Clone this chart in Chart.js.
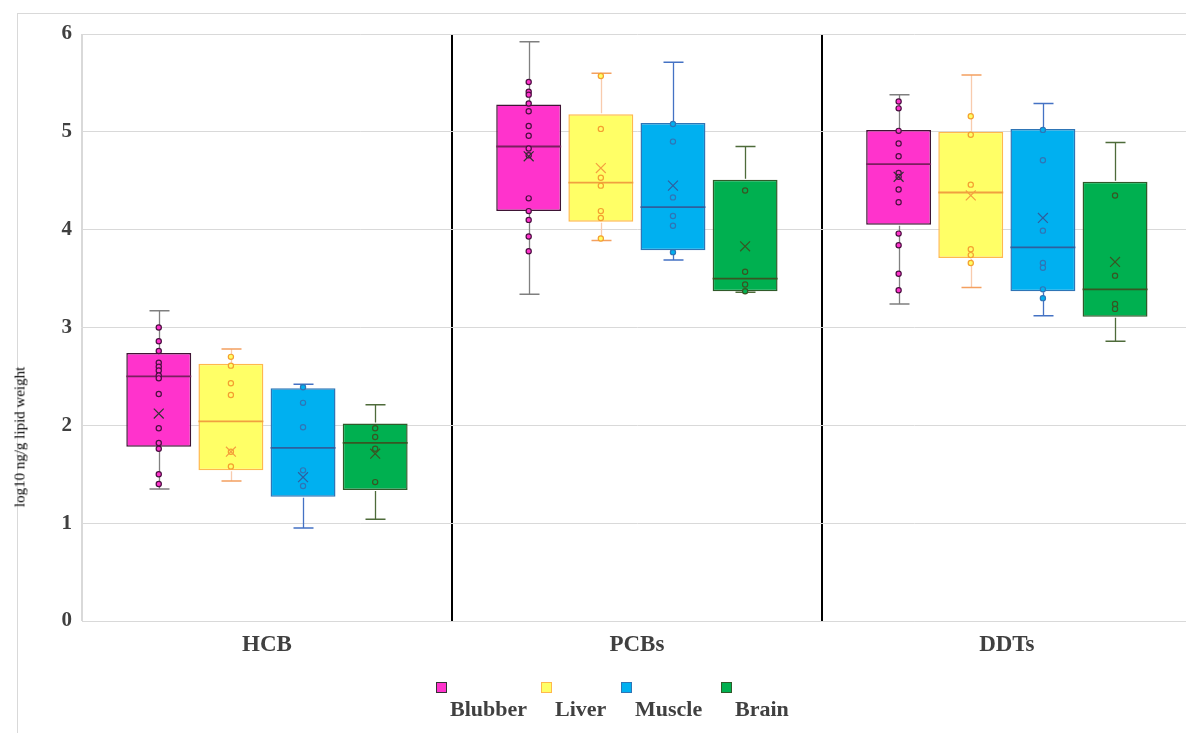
<!DOCTYPE html>
<html>
<head>
<meta charset="utf-8">
<script src="https://cdn.jsdelivr.net/npm/chart.js@4.4.1/dist/chart.umd.min.js"></script>
<style>
    html, body { margin: 0; padding: 0; background: #fff; overflow: hidden; width: 1186px; height: 733px; }
    #wrap { position: absolute; left: 0; top: 0; width: 1200px; height: 733px; }
    #frame { position: absolute; left: 17px; top: 13px; width: 1300px; height: 800px; border-left: 1px solid #d9d9d9; border-top: 1px solid #d9d9d9; }
    #ytitle { position: absolute; left: 20px; top: 437px; transform: translate(-50%, -50%) rotate(-90deg); font: 15px "Liberation Serif", "Times New Roman", serif; color: #000; white-space: nowrap; }
    .leg { position: absolute; top: 682px; }
    .leg .sq { width: 9px; height: 9px; border: 1px solid; }
    .leg .lb { position: absolute; left: 14px; top: 14px; font: bold 22px "Liberation Serif", "Times New Roman", serif; color: #404040; white-space: nowrap; }
</style>
</head>
<body>
<div id="frame"></div>
<div id="wrap"><canvas id="boxChart" width="1200" height="733"></canvas></div>
<div id="ytitle">log10 ng/g lipid weight</div>
<div id="legend"></div>
<script>
const groups = ['HCB', 'PCBs', 'DDTs'];
const tissues = ['Blubber', 'Liver', 'Muscle', 'Brain'];
const yTicks = [0, 1, 2, 3, 4, 5, 6];

// summary stats, [tissue][group]
const lowWhisker = [[1.35, 3.34, 3.24], [1.43, 3.89, 3.41], [0.95, 3.69, 3.12], [1.04, 3.36, 2.86]];
const q1 = [[1.78, 4.19, 4.05], [1.54, 4.08, 3.71], [1.27, 3.79, 3.37], [1.34, 3.37, 3.11]];
const medians = [[2.50, 4.85, 4.67], [2.04, 4.48, 4.38], [1.77, 4.23, 3.82], [1.82, 3.50, 3.39]];
const q3 = [[2.74, 5.28, 5.02], [2.63, 5.18, 5.00], [2.38, 5.09, 5.03], [2.02, 4.51, 4.49]];
const highWhisker = [[3.17, 5.92, 5.38], [2.78, 5.60, 5.58], [2.42, 5.71, 5.29], [2.21, 4.85, 4.89]];
const means = [[2.12, 4.75, 4.54], [1.73, 4.63, 4.35], [1.47, 4.45, 4.12], [1.71, 3.83, 3.67]];

// individual samples, [group][sample]
const blubberPoints = [
    [3.00, 2.86, 2.76, 2.64, 2.60, 2.56, 2.51, 2.48, 2.32, 1.97, 1.82, 1.76, 1.50, 1.40],
    [5.51, 5.41, 5.38, 5.29, 5.21, 5.06, 4.96, 4.83, 4.76, 4.32, 4.19, 4.10, 3.93, 3.78],
    [5.31, 5.24, 5.01, 4.88, 4.75, 4.58, 4.54, 4.41, 4.28, 3.96, 3.84, 3.55, 3.38]
];
const liverPoints = [
    [2.70, 2.61, 2.43, 2.31, 1.73, 1.58],
    [5.57, 5.03, 4.53, 4.45, 4.19, 4.12, 3.91],
    [5.16, 4.97, 4.46, 3.80, 3.74, 3.66]
];
const musclePoints = [
    [2.39, 2.23, 1.98, 1.54, 1.38],
    [5.08, 4.90, 4.33, 4.14, 4.04, 3.77],
    [5.02, 4.71, 3.99, 3.66, 3.61, 3.39, 3.30]
];
const brainPoints = [
    [1.97, 1.88, 1.76, 1.42],
    [4.40, 3.57, 3.44, 3.37],
    [4.35, 3.53, 3.24, 3.19]
];
const allPoints = [blubberPoints, liverPoints, musclePoints, brainPoints];

const fillColors = ['#FF33CC', '#FFFF66', '#00B0F0', '#00B050'];
const borderColors = ['#3F1535', '#FFB84D', '#2E75B6', '#2F5A2A'];
const medianColors = ['#7A1F5F', '#F0A040', '#2E5F9E', '#375623'];
const whiskerColors = ['#808080', '#F8CBAD', '#4472C4', '#4E6B3A'];
const capColors = ['#7F7F7F', '#F4A060', '#4472C4', '#4E6B3A'];
const pointBorders = ['#4A1040', '#F4A030', '#2E75B6', '#375623'];
const meanColors = ['#333333', '#F4A040', '#2E5F9E', '#375623'];

// each group uses 78% of its category, split in 4 equal slots
const slot = 0.78 / tissues.length;
const slotX = (j, k) => j + (k - 1.5) * slot;
const serif = '"Liberation Serif", "Times New Roman", serif';

const datasets = [];
tissues.forEach((t, k) => {
    datasets.push({
        type: 'bar',
        label: t,
        xAxisID: 'xp',
        grouped: false,
        data: q1[k].map((v, j) => ({ x: slotX(j, k), y: [v, q3[k][j]] })),
        backgroundColor: fillColors[k],
        borderColor: borderColors[k],
        borderWidth: 1.5,
        borderSkipped: false,
        categoryPercentage: 1,
        barPercentage: 0.9,
        order: 2
    });
});
tissues.forEach((t, k) => {
    const pts = [];
    allPoints[k].forEach((vals, j) => vals.forEach(v => pts.push({ x: slotX(j, k), y: v })));
    datasets.push({
        type: 'scatter',
        label: t + ' samples',
        xAxisID: 'xp',
        data: pts,
        pointStyle: 'circle',
        pointRadius: 2.6,
        pointBorderWidth: 1.2,
        pointBackgroundColor: fillColors[k],
        pointBorderColor: pointBorders[k],
        order: 1
    });
    datasets.push({
        type: 'scatter',
        label: t + ' mean',
        xAxisID: 'xp',
        data: means[k].map((v, j) => ({ x: slotX(j, k), y: v })),
        pointStyle: 'crossRot',
        pointRadius: 7,
        pointBorderWidth: 1.2,
        pointBorderColor: meanColors[k],
        order: 0
    });
});

const whiskerPlugin = {
    id: 'whiskers',
    afterDatasetDraw(chart, args) {
        const meta = args.meta;
        if (meta.type !== 'bar') return;
        const k = args.index;
        const y = chart.scales.y;
        const ctx = chart.ctx;
        ctx.save();
        meta.data.forEach((bar, j) => {
            const x = Math.round(bar.x) + 0.5;
            const half = bar.width / 2;
            const yLo = y.getPixelForValue(lowWhisker[k][j]);
            const yQ1 = y.getPixelForValue(q1[k][j]);
            const yQ3 = y.getPixelForValue(q3[k][j]);
            const yHi = y.getPixelForValue(highWhisker[k][j]);
            const yMed = y.getPixelForValue(medians[k][j]);
            ctx.lineWidth = 1.3;
            ctx.strokeStyle = whiskerColors[k];
            ctx.beginPath();
            ctx.moveTo(x, yHi); ctx.lineTo(x, yQ3 - 1);
            ctx.moveTo(x, yQ1 + 1); ctx.lineTo(x, yLo);
            ctx.stroke();
            ctx.strokeStyle = capColors[k];
            ctx.lineWidth = 1.5;
            ctx.beginPath();
            ctx.moveTo(x - 10, yHi); ctx.lineTo(x + 10, yHi);
            ctx.moveTo(x - 10, yLo); ctx.lineTo(x + 10, yLo);
            ctx.stroke();
            ctx.strokeStyle = medianColors[k];
            ctx.lineWidth = 1.8;
            ctx.beginPath();
            ctx.moveTo(bar.x - half, yMed); ctx.lineTo(bar.x + half, yMed);
            ctx.stroke();
        });
        ctx.restore();
    }
};

new Chart(document.getElementById('boxChart'), {
    type: 'bar',
    data: { labels: groups, datasets: datasets },
    plugins: [whiskerPlugin],
    options: {
        responsive: false,
        animation: false,
        layout: { padding: { left: 20, top: 34, right: 5, bottom: 0 } },
        plugins: { legend: { display: false }, tooltip: { enabled: false } },
        scales: {
            x: {
                offset: true,
                afterFit: s => { s.height = 112; },
                grid: {
                    offset: true,
                    drawTicks: false,
                    color: c => (c.index === 1 || c.index === 2) ? '#000000' : '#d9d9d9',
                    lineWidth: c => (c.index === 1 || c.index === 2) ? 2 : 1
                },
                border: { color: '#d9d9d9' },
                ticks: { padding: 10, color: '#404040', font: { family: serif, size: 23, weight: 'bold' } }
            },
            xp: { type: 'linear', display: false, offset: false, min: -0.5, max: 2.5 },
            y: {
                min: yTicks[0],
                max: yTicks[yTicks.length - 1],
                afterFit: s => { s.width = 62; },
                afterBuildTicks: s => { s.ticks = yTicks.map(v => ({ value: v })); },
                grid: { color: '#d9d9d9', drawTicks: false },
                border: { color: '#d9d9d9' },
                ticks: { padding: 10, color: '#404040', font: { family: serif, size: 21, weight: 'bold' } }
            }
        }
    }
});

// legend: swatch on top, label below and to the right
const legendLefts = [436, 541, 621, 721];
const legend = document.getElementById('legend');
tissues.forEach((t, k) => {
    const item = document.createElement('div');
    item.className = 'leg';
    item.style.left = legendLefts[k] + 'px';
    item.innerHTML = `<div class="sq" style="background:${fillColors[k]};border-color:${k === 0 ? '#333' : borderColors[k]}"></div><div class="lb">${t}</div>`;
    legend.appendChild(item);
});
</script>
</body>
</html>
